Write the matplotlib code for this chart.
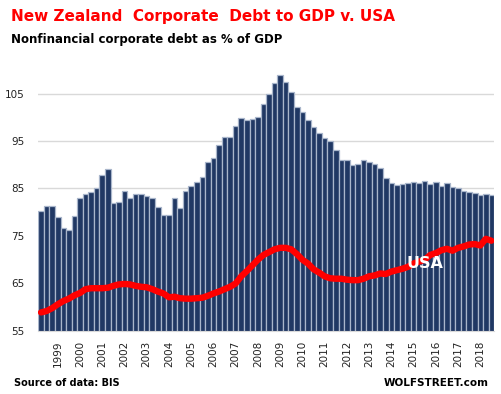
import numpy as np
import matplotlib
matplotlib.use("Agg")
import matplotlib.pyplot as plt

# quarterly, 1998 Q2 .. 2018 Q3
nz = [80.2, 81.4, 81.4, 78.9, 76.6, 76.3, 79.3, 83.1, 83.8, 84.3,
      85.2, 87.8, 89.0, 81.9, 82.1, 84.4, 83.1, 83.8, 83.8, 83.5,
      82.9, 81.0, 79.5, 79.5, 83.1, 80.8, 84.4, 85.5, 86.3, 87.4,
      90.5, 91.4, 94.1, 95.8, 95.8, 98.1, 99.8, 99.4, 99.6, 100.0,
      102.7, 105.0, 107.3, 109.0, 107.5, 105.4, 102.1, 101.2, 99.5, 97.9,
      96.7, 95.7, 95.0, 93.2, 90.9, 90.9, 90.0, 90.2, 90.9, 90.6,
      90.2, 89.4, 87.3, 86.2, 85.8, 86.0, 86.2, 86.4, 86.2, 86.6,
      86.0, 86.3, 85.5, 86.1, 85.4, 85.0, 84.5, 84.3, 84.1, 83.7,
      83.9, 83.7]
usa = [58.9, 59.2, 59.8, 60.6, 61.3, 61.8, 62.5, 63.0, 63.8, 64.0,
       64.0, 64.0, 64.1, 64.5, 64.8, 64.9, 64.8, 64.5, 64.3, 64.2,
       63.8, 63.3, 62.9, 62.1, 62.2, 61.9, 61.8, 61.8, 61.9, 62.0,
       62.4, 62.9, 63.3, 63.8, 64.3, 65.0, 66.5, 67.6, 68.8, 70.0,
       71.0, 71.6, 72.2, 72.5, 72.5, 72.2, 71.2, 70.0, 69.2, 68.0,
       67.3, 66.5, 66.1, 66.0, 66.0, 65.8, 65.7, 65.7, 66.0, 66.5,
       66.7, 67.1, 67.0, 67.5, 67.8, 68.1, 68.5, 69.2, 69.6, 70.0,
       71.0, 71.4, 72.0, 72.3, 71.9, 72.5, 72.8, 73.2, 73.3, 73.0,
       74.4, 74.0]
years = [str(y) for y in range(1999, 2019)]
yticks = [55, 65, 75, 85, 95, 105]

x = np.arange(len(nz))

fig = plt.figure(figsize=(5.01, 3.94), dpi=100)
fig.patch.set_facecolor("white")
ax = fig.add_axes([0.0764, 0.160, 0.910, 0.675])

ax.bar(x, nz, width=1.0, bottom=0, color="#203864", edgecolor="#a9b6cb",
       linewidth=0.9, zorder=2)
ax.plot(x, usa, color="#ff0000", lw=4.6, solid_capstyle="round",
        solid_joinstyle="round", zorder=3)
# label sits on the line, white text
ax.text(69.0, 69.3, "USA", color="white", fontsize=11.5, fontweight="bold",
        ha="center", va="center", zorder=4)

ax.set_xlim(-0.5, len(nz) - 0.5)
ax.set_ylim(55, 111)
ax.set_yticks(yticks)
ax.set_yticklabels([str(v) for v in yticks], fontsize=7.5, color="#222222")
ax.set_xticks(x[3::4])
ax.set_xticklabels(years, rotation=90, fontsize=7.5, color="#222222")
ax.tick_params(axis="x", length=0, pad=7)
ax.tick_params(axis="y", length=0, pad=10)
ax.grid(axis="y", color="#d9d9d9", lw=1.0, zorder=0)
ax.set_axisbelow(True)
for s in ["top", "right", "left"]:
    ax.spines[s].set_visible(False)
ax.spines["bottom"].set_color("#d9d9d9")

fig.text(0.022, 0.959, "New Zealand  Corporate  Debt to GDP v. USA",
         color="#ff0000", fontsize=11, fontweight="bold", va="center")
fig.text(0.022, 0.900, "Nonfinancial corporate debt as % of GDP",
         color="black", fontsize=8.5, fontweight="bold", va="center")
fig.text(0.028, 0.028, "Source of data: BIS", color="black",
         fontsize=7, fontweight="bold", va="center")
fig.text(0.975, 0.028, "WOLFSTREET.com", color="black",
         fontsize=7.5, fontweight="bold", va="center", ha="right")

plt.savefig("out.png", dpi=100, facecolor="white")
plt.close()
